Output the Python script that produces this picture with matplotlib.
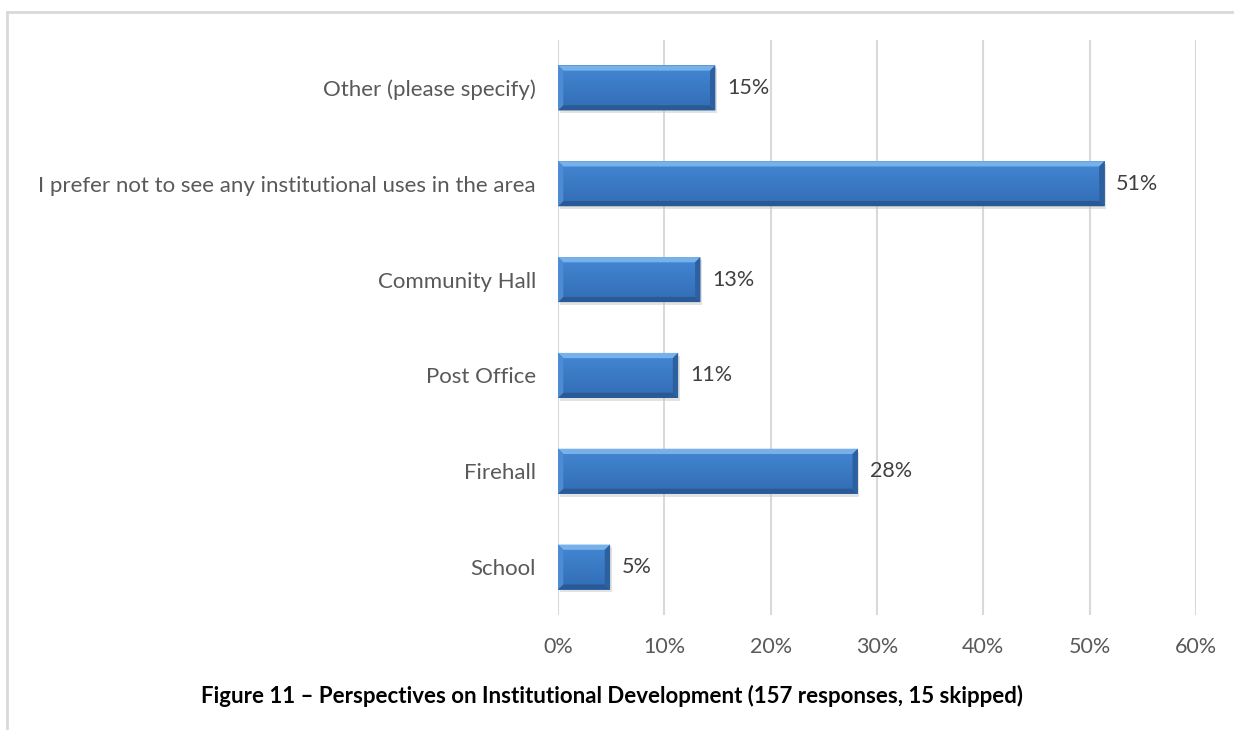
import numpy as np
import matplotlib
matplotlib.use("Agg")
import matplotlib.pyplot as plt
from matplotlib.patches import Polygon, Rectangle
from matplotlib.lines import Line2D

plt.rcParams['font.family'] = ['Lato', 'DejaVu Sans']

categories = ["School", "Firehall", "Post Office", "Community Hall",
              "I prefer not to see any institutional uses in the area",
              "Other (please specify)"]
shares = [4.9, 28.2, 11.3, 13.4, 51.4, 14.8]
labels = ["5%", "28%", "11%", "13%", "51%", "15%"]
xticks = [0, 10, 20, 30, 40, 50, 60]
caption = "Figure 11 \u2013 Perspectives on Institutional Development (157 responses, 15 skipped)"

W, H = 1234, 730
fig = plt.figure(figsize=(W / 100, H / 100), dpi=100)
fig.patch.set_facecolor("white")

# frame lines along top and left
fig.add_artist(Line2D([7 / W, 1], [1 - 12 / H, 1 - 12 / H], color="#d9d9d9", lw=2,
                      transform=fig.transFigure))
fig.add_artist(Line2D([7 / W, 7 / W], [0, 1 - 12 / H], color="#d9d9d9", lw=2,
                      transform=fig.transFigure))

ax = fig.add_axes([558 / W, (H - 615) / H, (1196 - 558) / W, (615 - 40) / H])
y = np.arange(len(categories))
bars = ax.barh(y, shares, height=0.47, color="#3b78c3", zorder=3)

ax.set_xlim(0, 60)
ax.set_ylim(-0.5, len(categories) - 0.5)
ax.set_xticks(xticks)
ax.set_xticklabels([f"{t}%" for t in xticks])
ax.set_yticks(y)
ax.set_yticklabels(categories)
ax.tick_params(length=0, labelsize=15.5, colors="#595959")
ax.tick_params(axis="x", pad=16)
ax.tick_params(axis="y", pad=16, labelsize=16)
for s in ax.spines.values():
    s.set_visible(False)
ax.grid(axis="x", color="#d9d9d9", lw=1.5, zorder=0)

# bevelled edges on each bar
dx, dy = 0.5, 0.055
face = matplotlib.colors.LinearSegmentedColormap.from_list("f", ["#3470b8", "#4184d0"])
for b in bars:
    x0, y0, w, h = b.get_x(), b.get_y(), b.get_width(), b.get_height()
    x1, y1 = x0 + w, y0 + h
    ax.add_patch(Rectangle((x0 + 0.15, y0 - 0.03), w, h, color="#bfbfbf",
                           alpha=0.45, zorder=2, lw=0))
    grad = np.linspace(0, 1, 50).reshape(-1, 1)
    ax.imshow(grad, extent=(x0 + dx, x1 - dx, y0 + dy, y1 - dy), aspect="auto",
              cmap=face, origin="lower", zorder=4)
    top = [(x0, y1), (x1, y1), (x1 - dx, y1 - dy), (x0 + dx, y1 - dy)]
    bot = [(x0, y0), (x1, y0), (x1 - dx, y0 + dy), (x0 + dx, y0 + dy)]
    rgt = [(x1, y0), (x1, y1), (x1 - dx, y1 - dy), (x1 - dx, y0 + dy)]
    lft = [(x0, y0), (x0, y1), (x0 + dx, y1 - dy), (x0 + dx, y0 + dy)]
    ax.add_patch(Polygon(top, color="#78b0ea", lw=0, zorder=5))
    ax.add_patch(Polygon(bot, color="#2a5a95", lw=0, zorder=5))
    ax.add_patch(Polygon(rgt, color="#2c609f", lw=0, zorder=5))
    ax.add_patch(Polygon(lft, color="#4d8bd4", lw=0, zorder=5))

for b, lab in zip(bars, labels):
    ax.text(b.get_width() + 1.1, b.get_y() + b.get_height() / 2, lab,
            va="center", ha="left", fontsize=15.5, color="#404040", zorder=6)

fig.text(612 / W, 1 - 696 / H, caption, ha="center", va="center",
         fontsize=16, fontweight="bold", color="black")

fig.savefig("out.png", dpi=100)
